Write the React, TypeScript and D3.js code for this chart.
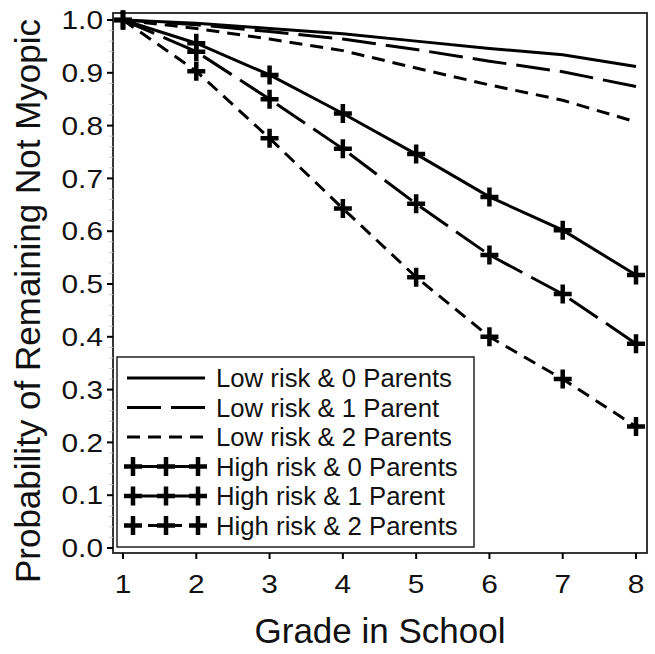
import React from 'react';
import * as d3 from 'd3';

// grades on the x axis
const grades = [1, 2, 3, 4, 5, 6, 7, 8];

// probability of remaining not myopic
const lowRisk0 = [1.0, 0.994, 0.984, 0.974, 0.960, 0.946, 0.934, 0.912];
const lowRisk1 = [1.0, 0.991, 0.978, 0.964, 0.944, 0.922, 0.902, 0.874];
const lowRisk2 = [1.0, 0.984, 0.964, 0.942, 0.909, 0.877, 0.848, 0.807];
const highRisk0 = [1.0, 0.956, 0.896, 0.823, 0.746, 0.665, 0.602, 0.517];
const highRisk1 = [1.0, 0.940, 0.850, 0.756, 0.652, 0.555, 0.481, 0.387];
const highRisk2 = [1.0, 0.903, 0.776, 0.643, 0.513, 0.400, 0.320, 0.230];

const seriesNames = [
  'Low risk & 0 Parents',
  'Low risk & 1 Parent',
  'Low risk & 2 Parents',
  'High risk & 0 Parents',
  'High risk & 1 Parent',
  'High risk & 2 Parents',
];

const yTicks = [0, 0.1, 0.2, 0.3, 0.4, 0.5, 0.6, 0.7, 0.8, 0.9, 1.0];

const FONT = '"Liberation Sans", Arial, Helvetica, sans-serif';
const LONG_DASH = '34,10';
const SHORT_DASH = '13,8';

const series = [
  { name: seriesNames[0], values: lowRisk0, dash: null, marks: false },
  { name: seriesNames[1], values: lowRisk1, dash: LONG_DASH, marks: false },
  { name: seriesNames[2], values: lowRisk2, dash: SHORT_DASH, marks: false },
  { name: seriesNames[3], values: highRisk0, dash: null, marks: true },
  { name: seriesNames[4], values: highRisk1, dash: LONG_DASH, marks: true },
  { name: seriesNames[5], values: highRisk2, dash: SHORT_DASH, marks: true },
];

const Cross = ({ x, y }: { x: number; y: number }) => (
  <path
    d={`M${x - 9},${y}H${x + 9}M${x},${y - 9.5}V${y + 9.5}`}
    stroke="#000"
    strokeWidth={4.5}
    fill="none"
  />
);

// the original's lettering is a little wider than Arial, so stretch it sideways
const WideText = ({ x, y, sx, anchor, size, children }: any) => (
  <text
    transform={`translate(${x},${y}) scale(${sx},1)`}
    textAnchor={anchor}
    dy="0.36em"
    fontSize={size}
    fill="#111"
  >
    {children}
  </text>
);

export default function App() {
  const width = 655;
  const height = 654;

  // plot frame
  const frame = { left: 113, right: 647, top: 13, bottom: 553 };

  const x = d3.scaleLinear().domain([1, 8]).range([123, 636]);
  const y = d3.scaleLinear().domain([0, 1]).range([548, 20]);

  const line = d3
    .line<number>()
    .x((_, i) => x(grades[i]))
    .y((d) => y(d));

  const minorTicks = d3.range(0, 1.0001, 0.02).filter((v) => Math.round(v * 100) % 10 !== 0);

  // legend layout
  const legend = { x: 117, y: 357, w: 357, h: 190, rowH: 29.5, lineX0: 127, lineX1: 205, textX: 216 };

  return (
    <svg
      width={width}
      height={height}
      style={{ position: 'absolute', left: 0, top: 0, background: '#fff' }}
      fontFamily={FONT}
    >
      <rect x={0} y={0} width={width} height={height} fill="#fff" />

      {/* frame */}
      <rect
        x={frame.left}
        y={frame.top}
        width={frame.right - frame.left}
        height={frame.bottom - frame.top}
        fill="none"
        stroke="#222"
        strokeWidth={1.8}
      />

      {/* minor y ticks */}
      {minorTicks.map((v) => (
        <line key={'m' + v} x1={frame.left - 4} x2={frame.left} y1={y(v)} y2={y(v)} stroke="#c8c8c8" strokeWidth={1} />
      ))}

      {/* y axis ticks + labels */}
      {yTicks.map((v) => (
        <g key={'y' + v}>
          <line x1={frame.left - 6} x2={frame.left} y1={y(v)} y2={y(v)} stroke="#000" strokeWidth={2} />
          <WideText x={103} y={y(v)} sx={1.17} anchor="end" size={25.5}>
            {d3.format('.1f')(v)}
          </WideText>
        </g>
      ))}

      {/* x axis ticks + labels */}
      {grades.map((g) => (
        <g key={'x' + g}>
          <line x1={x(g)} x2={x(g)} y1={frame.bottom} y2={frame.bottom + 6} stroke="#000" strokeWidth={2} />
          <WideText x={x(g)} y={584} sx={1.17} anchor="middle" size={25.5}>
            {g}
          </WideText>
        </g>
      ))}

      {/* axis titles */}
      <text x={(frame.left + frame.right) / 2} y={643} textAnchor="middle" fontSize={35} fill="#111">
        Grade in School
      </text>
      <text
        transform={`translate(40,${(frame.top + frame.bottom) / 2 + 18}) rotate(-90)`}
        textAnchor="middle"
        fontSize={35}
        fill="#111"
      >
        Probability of Remaining Not Myopic
      </text>

      {/* series */}
      {series.map((s) => (
        <g key={s.name}>
          <path
            d={line(s.values) || ''}
            fill="none"
            stroke="#000"
            strokeWidth={3}
            strokeDasharray={s.dash || undefined}
          />
          {s.marks && s.values.map((v, i) => <Cross key={i} x={x(grades[i])} y={y(v)} />)}
        </g>
      ))}

      {/* legend */}
      <rect
        x={legend.x}
        y={legend.y}
        width={legend.w}
        height={legend.h}
        fill="#fff"
        stroke="#222"
        strokeWidth={1.5}
      />
      {series.map((s, i) => {
        const cy = legend.y + 21 + i * legend.rowH;
        return (
          <g key={'lg' + s.name}>
            <line
              x1={legend.lineX0}
              x2={legend.lineX1}
              y1={cy}
              y2={cy}
              stroke="#000"
              strokeWidth={3}
              strokeDasharray={s.dash || undefined}
            />
            {s.marks && [133, 166, 198].map((mx) => <Cross key={mx} x={mx} y={cy} />)}
            <WideText x={legend.textX} y={cy} sx={1.03} anchor="start" size={25}>
              {s.name}
            </WideText>
          </g>
        );
      })}
    </svg>
  );
}
